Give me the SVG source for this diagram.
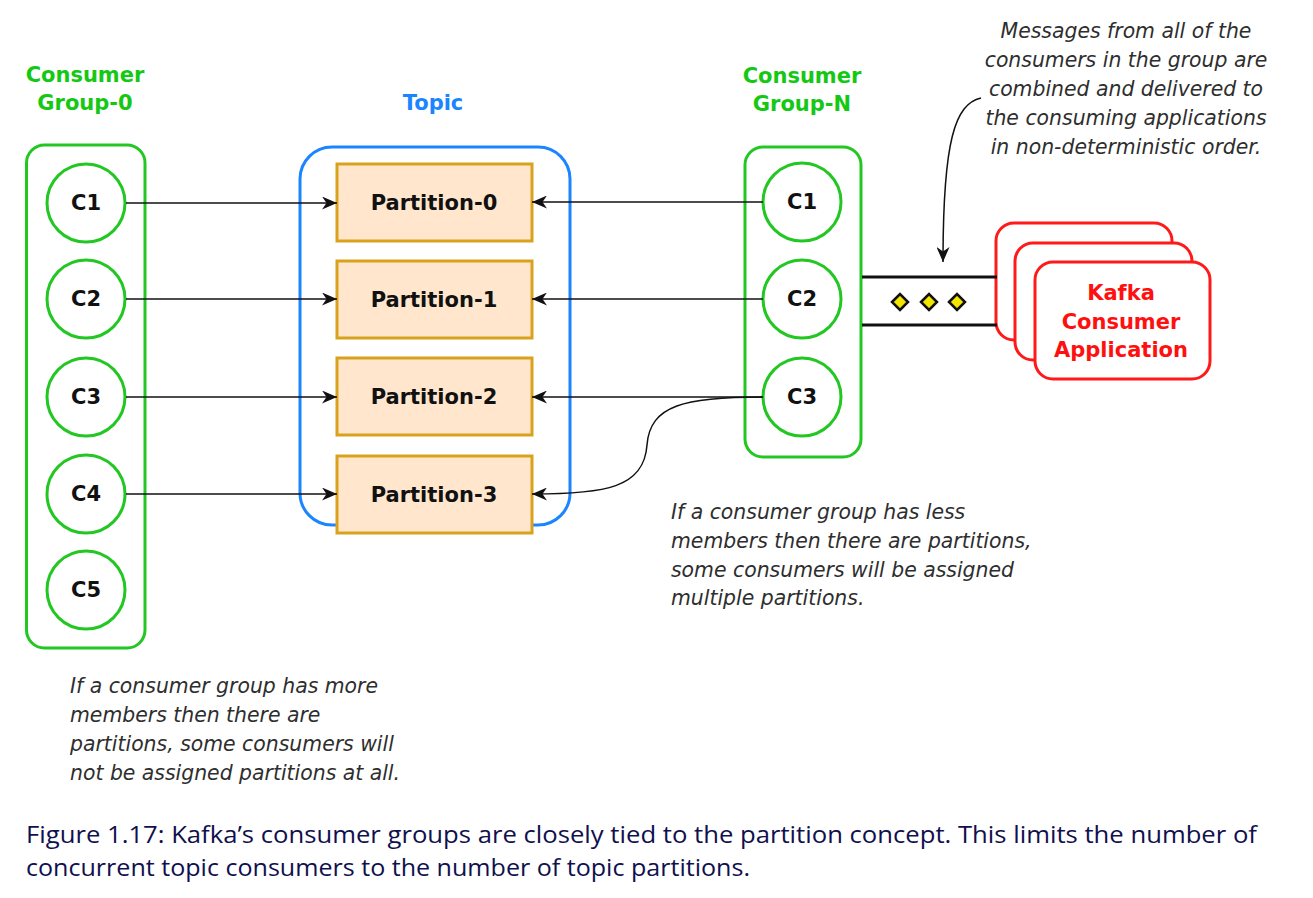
<svg xmlns="http://www.w3.org/2000/svg" width="1313" height="898" viewBox="0 0 1313 898">
<style>
.grp{fill:none;stroke:#22c722;stroke-width:3}
.cir{fill:#fff;stroke:#22c722;stroke-width:3}
.part{fill:#ffe6cc;stroke:#d9a21c;stroke-width:3}
.app{fill:#fff;stroke:#ff1a1a;stroke-width:3}
.lbl{font-family:"DejaVu Sans",Verdana,sans-serif;font-weight:bold;font-size:21px;text-anchor:middle}
.green{fill:#14c814}
.blue{fill:#1a85ff}
.red{fill:#ff1010}
.dark{fill:#111}
.note{font-family:"DejaVu Sans",Verdana,sans-serif;font-style:italic;font-size:20.4px;fill:#2e2e2e}
.cap{font-family:"Open Sans","Liberation Sans",sans-serif;font-weight:500;font-size:24px;fill:#10104e}
.con{fill:none;stroke:#111;stroke-width:1.5}
</style>
<defs>
<marker id="arr" markerUnits="userSpaceOnUse" markerWidth="15" markerHeight="13" refX="15" refY="6.5" orient="auto">
<path d="M0,0 L15,6.5 L0,13 L4.5,6.5 z" fill="#111"/>
</marker>
</defs>
<rect width="1313" height="898" fill="#fff"/>

<g id="group0">
<text class="lbl green" x="85" y="82">Consumer</text>
<text class="lbl green" x="85" y="110">Group-0</text>
<rect class="grp" x="26.5" y="145" width="118.5" height="503" rx="18"/>
</g>
<g id="g0c1"><circle class="cir" cx="86" cy="203" r="39"/><text class="lbl dark" x="86" y="210">C1</text></g>
<g id="g0c2"><circle class="cir" cx="86" cy="299" r="39"/><text class="lbl dark" x="86" y="306">C2</text></g>
<g id="g0c3"><circle class="cir" cx="86" cy="397" r="39"/><text class="lbl dark" x="86" y="404">C3</text></g>
<g id="g0c4"><circle class="cir" cx="86" cy="494" r="39"/><text class="lbl dark" x="86" y="501">C4</text></g>
<g id="g0c5"><circle class="cir" cx="86" cy="590" r="39"/><text class="lbl dark" x="86" y="597">C5</text></g>

<g id="topic">
<text class="lbl blue" x="433" y="110">Topic</text>
<rect x="300" y="147" width="270" height="378" rx="32" fill="none" stroke="#1a85ff" stroke-width="3"/>
</g>
<g id="p0"><rect class="part" x="337" y="164" width="195" height="77"/><text class="lbl dark" x="434" y="210">Partition-0</text></g>
<g id="p1"><rect class="part" x="337" y="261" width="195" height="77"/><text class="lbl dark" x="434" y="307">Partition-1</text></g>
<g id="p2"><rect class="part" x="337" y="358" width="195" height="77"/><text class="lbl dark" x="434" y="404">Partition-2</text></g>
<g id="p3"><rect class="part" x="337" y="456" width="195" height="77"/><text class="lbl dark" x="434" y="502">Partition-3</text></g>

<g id="groupN">
<text class="lbl green" x="802" y="83">Consumer</text>
<text class="lbl green" x="802" y="111">Group-N</text>
<rect class="grp" x="745" y="147" width="116" height="310" rx="18"/>
</g>
<g id="gnc1"><circle class="cir" cx="802" cy="202" r="39"/><text class="lbl dark" x="802" y="209">C1</text></g>
<g id="gnc2"><circle class="cir" cx="802" cy="299" r="39"/><text class="lbl dark" x="802" y="306">C2</text></g>
<g id="gnc3"><circle class="cir" cx="802" cy="397" r="39"/><text class="lbl dark" x="802" y="404">C3</text></g>

<g id="app">
<rect class="app" x="996" y="223" width="176" height="117" rx="18"/>
<rect class="app" x="1015" y="243" width="177" height="117" rx="18"/>
<rect class="app" x="1035" y="262" width="175" height="117" rx="18"/>
<text class="lbl red" x="1121" y="300">Kafka</text>
<text class="lbl red" x="1121" y="329">Consumer</text>
<text class="lbl red" x="1121" y="357">Application</text>
</g>

<g id="connectors">
<line class="con" x1="126" y1="203" x2="337" y2="203" marker-end="url(#arr)"/>
<line class="con" x1="126" y1="299" x2="337" y2="299" marker-end="url(#arr)"/>
<line class="con" x1="126" y1="397" x2="337" y2="397" marker-end="url(#arr)"/>
<line class="con" x1="126" y1="494" x2="337" y2="494" marker-end="url(#arr)"/>
<line class="con" x1="763" y1="202" x2="532" y2="202" marker-end="url(#arr)"/>
<line class="con" x1="763" y1="299" x2="532" y2="299" marker-end="url(#arr)"/>
<line class="con" x1="763" y1="397" x2="532" y2="397" marker-end="url(#arr)"/>
<path class="con" d="M763,397 C685,397 650,405 647,445 C644,488 605,494 532,494" marker-end="url(#arr)"/>
<path class="con" d="M981,98 C955,104 943,140 943,262" marker-end="url(#arr)"/>
<line x1="862" y1="277" x2="997" y2="277" stroke="#111" stroke-width="3"/>
<line x1="862" y1="325" x2="997" y2="325" stroke="#111" stroke-width="3"/>
<path d="M892,302 L900,294 L908,302 L900,310 z M921,302 L929,294 L937,302 L929,310 z M949,302 L957,294 L965,302 L957,310 z" fill="#f2e600" stroke="#111" stroke-width="2.5"/>
</g>

<g id="note-top" class="note" text-anchor="middle">
<text x="1126" y="38">Messages from all of the</text>
<text x="1126" y="67">consumers in the group are</text>
<text x="1126" y="96">combined and delivered to</text>
<text x="1126" y="125">the consuming applications</text>
<text x="1126" y="154">in non-deterministic order.</text>
</g>
<g id="note-right" class="note">
<text x="671" y="519">If a consumer group has less</text>
<text x="671" y="548">members then there are partitions,</text>
<text x="671" y="577">some consumers will be assigned</text>
<text x="671" y="605">multiple partitions.</text>
</g>
<g id="note-left" class="note">
<text x="70" y="693">If a consumer group has more</text>
<text x="70" y="722">members then there are</text>
<text x="70" y="751">partitions, some consumers will</text>
<text x="70" y="780">not be assigned partitions at all.</text>
</g>
<g id="caption" class="cap">
<text x="26" y="843" textLength="1231" lengthAdjust="spacingAndGlyphs">Figure 1.17: Kafka’s consumer groups are closely tied to the partition concept. This limits the number of</text>
<text x="26" y="876" textLength="724" lengthAdjust="spacingAndGlyphs">concurrent topic consumers to the number of topic partitions.</text>
</g>
</svg>
